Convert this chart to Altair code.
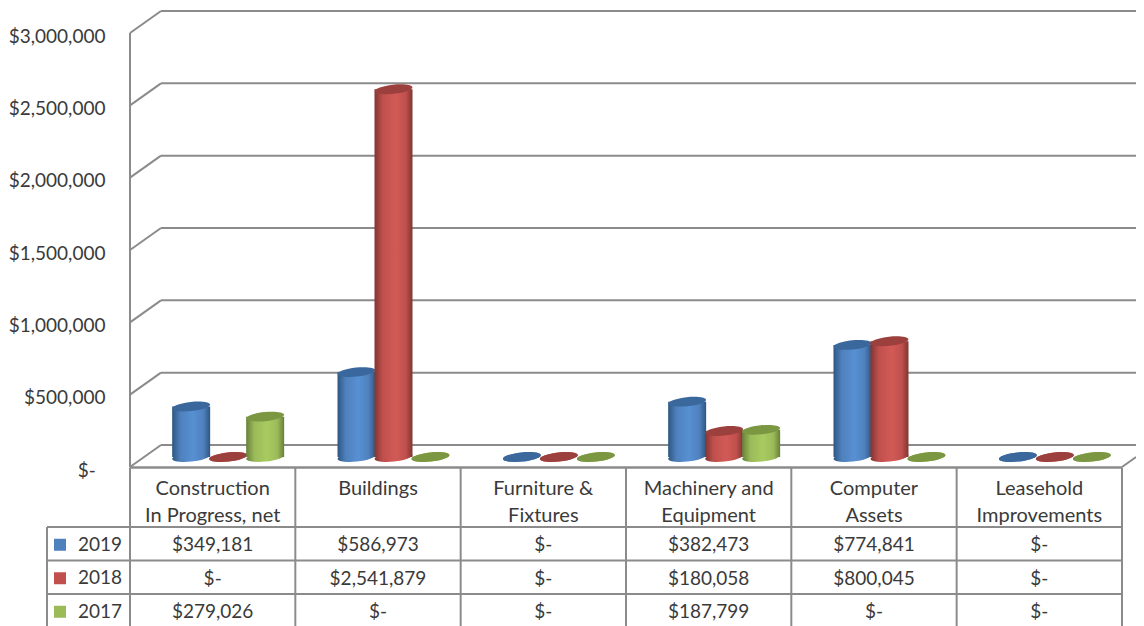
import altair as alt
import pandas as pd

categories = ["Construction\nIn Progress, net", "Buildings", "Furniture &\nFixtures",
              "Machinery and\nEquipment", "Computer\nAssets", "Leasehold\nImprovements"]
years = ["2019", "2018", "2017"]
v2019 = [349181, 586973, 0, 382473, 774841, 0]
v2018 = [0, 2541879, 0, 180058, 800045, 0]
v2017 = [279026, 0, 0, 187799, 0, 0]
ticks = [0, 500000, 1000000, 1500000, 2000000, 2500000, 3000000]

series = [v2019, v2018, v2017]
main = ["#4f81bd", "#c0504d", "#9bbb59"]
edge = ["#2f5681", "#813533", "#68803a"]
lite = ["#5790d3", "#d25a56", "#a8cb60"]
cap = ["#3a689c", "#9c403e", "#7c9742"]

LINE = "#8b8b8b"
FONT = "Lato"
TEXT = "#3a3a3a"
COL_W = 165.33
PLOT_W = 1006
PLOT_H = 434
DEPTH_X = 31 / COL_W
DEPTH_V = 22 / PLOT_H * 3000000
END_X = PLOT_W / COL_W

xs = alt.Scale(domain=[0, END_X], range=[0, PLOT_W], nice=False, zero=False, padding=0)
ys = alt.Scale(domain=[0, 3000000], range=[PLOT_H, 0], nice=False, zero=False, padding=0)
rs = alt.Scale(domain=[0, 3], range=[494, 594.5], nice=False, zero=False, padding=0)


def X(f="x"):
    return alt.X(f"{f}:Q", scale=xs, axis=None)


def Y(f="y", **kw):
    return alt.Y(f"{f}:Q", scale=ys, **({"axis": None} if not kw else kw))


def R(f="r"):
    return alt.Y(f"{f}:Q", scale=rs, axis=None)


def grad(i):
    return alt.Gradient(gradient="linear", x1=0, x2=1, y1=0, y2=0, stops=[
        alt.GradientStop(color=edge[i], offset=0),
        alt.GradientStop(color=main[i], offset=0.22),
        alt.GradientStop(color=lite[i], offset=0.55),
        alt.GradientStop(color=main[i], offset=0.82),
        alt.GradientStop(color=edge[i], offset=1),
    ])


ELLIPSE = "M-1,0C-1,-0.13 -0.55,-0.24 0,-0.24C0.55,-0.24 1,-0.13 1,0C1,0.13 0.55,0.24 0,0.24C-0.55,0.24 -1,0.13 -1,0Z"

layers = []

# walls and gridlines
walls = pd.DataFrame({"x": [0.0] * len(ticks), "x2": [DEPTH_X] * len(ticks), "v": ticks,
                      "bx": [END_X] * len(ticks)})
walls["y2"] = walls["v"] + DEPTH_V
axis = alt.Axis(values=ticks, domain=False, ticks=False, grid=False, title=None,
                labelFont=FONT, labelFontSize=19, labelColor=TEXT, labelPadding=25,
                labelOffset=3, labelFlush=False, labelOverlap=False,
                labelExpr="datum.value == 0 ? '$-\u00a0\u00a0\u200b' : '$' + format(datum.value, ',')")
layers.append(alt.Chart(walls).mark_rule(color=LINE, strokeWidth=2).encode(
    x=X(), x2="x2:Q", y=alt.Y("v:Q", scale=ys, axis=axis), y2="y2:Q"))
layers.append(alt.Chart(walls).mark_rule(color=LINE, strokeWidth=2).encode(
    x=X("x2"), x2="bx:Q", y=Y("y2")))
wall_left = pd.DataFrame({"x": [0], "a": [0], "b": [3000000]})
layers.append(alt.Chart(wall_left).mark_rule(color=LINE, strokeWidth=2).encode(
    x=X(), y=Y("a"), y2="b:Q"))
right = pd.DataFrame({"x": [6.0], "x2": [END_X], "a": [0],
                      "b": [(END_X - 6) / DEPTH_X * DEPTH_V]})
layers.append(alt.Chart(right).mark_rule(color=LINE, strokeWidth=2).encode(
    x=X(), x2="x2:Q", y=Y("a"), y2="b:Q"))

# cylinders
for i, vals in enumerate(series):
    d = pd.DataFrame({"x": [k + 0.5 for k in range(6)], "v": vals, "z": [0] * 6})
    dx = 15.5 + (i - 1) * 37
    layers.append(alt.Chart(d).mark_point(shape=ELLIPSE, filled=True, opacity=1, size=38 ** 2,
                                           angle=354, strokeWidth=0, fill=grad(i),
                                           xOffset=dx, yOffset=-10).encode(x=X(), y=Y("z")))
    layers.append(alt.Chart(d).mark_bar(size=38, color=grad(i), xOffset=dx, x2Offset=dx,
                                        yOffset=-10, y2Offset=-10, orient="vertical").encode(
        x=X(), y=Y("v"), y2="z:Q"))
    layers.append(alt.Chart(d).mark_point(shape=ELLIPSE, filled=True, opacity=1, size=38 ** 2,
                                           angle=354, strokeWidth=0, fill=cap[i],
                                           xOffset=dx, yOffset=-10).encode(x=X(), y=Y("v")))

# table grid
vl = pd.DataFrame({"x": list(range(7)), "a": [-59.5 / 33.5] * 7, "b": [3.1] * 7})
layers.append(alt.Chart(vl).mark_rule(color=LINE, strokeWidth=2).encode(x=X(), y=R("a"), y2="b:Q"))
left = pd.DataFrame({"x": [-83 / COL_W], "a": [0], "b": [3.1]})
layers.append(alt.Chart(left).mark_rule(color=LINE, strokeWidth=2).encode(x=X(), y=R("a"), y2="b:Q"))
hl = pd.DataFrame({"x": [-83 / COL_W] * 3, "x2": [6] * 3, "r": [0, 1, 2]})
layers.append(alt.Chart(hl).mark_rule(color=LINE, strokeWidth=2).encode(x=X(), x2="x2:Q", y=R()))
top = pd.DataFrame({"x": [0], "x2": [6], "r": [-59.5 / 33.5]})
layers.append(alt.Chart(top).mark_rule(color=LINE, strokeWidth=2.5).encode(x=X(), x2="x2:Q", y=R()))

# table text
head = pd.DataFrame({"x": [k + 0.5 for k in range(6)], "r": [-1.12] * 6, "t": categories})
layers.append(alt.Chart(head).mark_text(font=FONT, fontSize=20, color=TEXT, lineHeight=27,
                                        baseline="middle", align="center").transform_calculate(
    t2="split(datum.t, '\\n')").encode(x=X(), y=R(), text="t2:N"))


def money(v):
    return f"${v:,}" if v else "$-"


rows = []
for r, vals in enumerate(series):
    for k, v in enumerate(vals):
        rows.append({"x": k + 0.5, "r": r + 0.55, "t": money(v)})
layers.append(alt.Chart(pd.DataFrame(rows)).mark_text(font=FONT, fontSize=19, color=TEXT, align="center",
                                                      baseline="middle").encode(x=X(), y=R(), text="t:N"))

leg = pd.DataFrame({"x": [-52 / COL_W] * 3, "r": [0.53, 1.53, 2.53], "t": years})
layers.append(alt.Chart(leg).mark_text(font=FONT, fontSize=19, color=TEXT, align="left",
                                       baseline="middle").encode(x=X(), y=R(), text="t:N"))
sw = pd.DataFrame({"x": [-70 / COL_W] * 3, "r": [0.53, 1.53, 2.53], "c": years})
layers.append(alt.Chart(sw).mark_square(size=144, opacity=1).encode(
    x=X(), y=R(), color=alt.Color("c:N", scale=alt.Scale(domain=years, range=main), legend=None)))

chart = alt.layer(*layers).resolve_scale(y="independent").properties(
    width=PLOT_W, height=PLOT_H, background="white",
    padding={"left": 122, "top": 25, "right": 0, "bottom": 159},
    autosize=alt.AutoSizeParams(type="none"),
).configure_view(stroke="transparent", strokeWidth=0)

chart.save("out.html", embed_options={"renderer": "svg", "actions": False})
